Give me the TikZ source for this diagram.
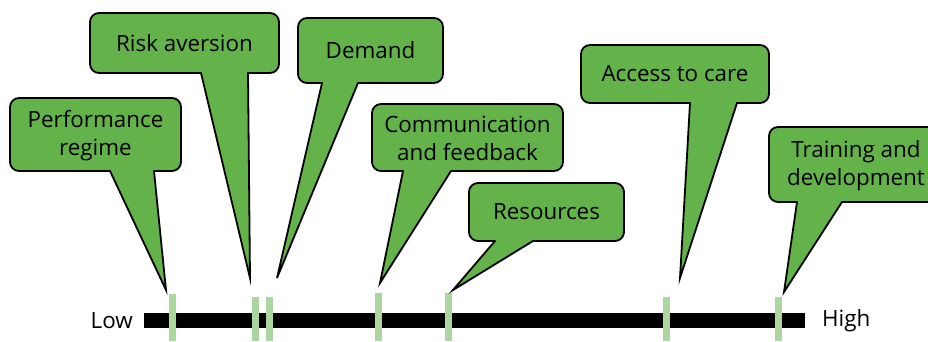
\documentclass[tikz,border=0pt]{standalone}
\usepackage{fontspec}
\setmainfont{Open Sans}
\definecolor{bubble}{RGB}{99,178,74}
\definecolor{marker}{RGB}{172,214,160}
% box left, top, right, bottom, pointer base left, right, tip
\newcommand{\bubble}[7]{%
  \fill[bubble, rounded corners=9pt] (#1,#2) rectangle (#3,#4);
  \fill[bubble] (#5,#4-6) -- (#5,#4) -- (#7) -- (#6,#4) -- (#6,#4-6) -- cycle;
  \draw[edge, rounded corners=9pt] (#5,#4) -- (#1,#4) -- (#1,#2) -- (#3,#2) -- (#3,#4) -- (#6,#4);
  \draw[edge] (#5,#4) -- (#7) -- (#6,#4);}

\begin{document}
\begin{tikzpicture}[x=1pt, y=-1pt, edge/.style = {draw=black, line width=1.8pt, line join=miter, line cap=round},
    txt/.style = {font=\fontsize{22.4}{27.5}\selectfont, align=center, inner sep=0pt},
    tick/.style = {draw=marker, line width=7pt}]
    \useasboundingbox (0,0) rectangle (928,341);
    \clip (0,0) rectangle (928,341);

    % Scale
    \coordinate (lo) at (144,320.5);
    \coordinate (hi) at (805,320.5);
    \draw[line width=15pt] (lo) -- (hi);
    \node[txt, anchor=east] (low) at (133,321) {Low};
    \node[txt, anchor=west] (high) at (822,321) {High};

    % Ticks
    \draw[tick] (172.5,294) -- (172.5,341);
    \draw[tick] (255.5,297) -- (255.5,341);
    \draw[tick] (269.5,297) -- (269.5,341);
    \draw[tick] (378.5,293) -- (378.5,341);
    \draw[tick] (448.5,293) -- (448.5,341);
    \draw[tick] (666.5,297) -- (666.5,341);
    \draw[tick] (778,297) -- (778,341);

    % Callouts
    \coordinate (p1) at (166,290);
    \coordinate (p2) at (250,278);
    \coordinate (p3) at (277,278);
    \coordinate (p4) at (380,283);
    \coordinate (p5) at (453,290);
    \coordinate (p6) at (680,278);
    \coordinate (p7) at (784,292);

    \bubble{10}{98}{181}{171}{110}{154}{p1}
    \bubble{90}{13}{279}{73}{201}{248}{p2}
    \bubble{298}{18}{443}{83}{322}{358}{p3}
    \bubble{372}{104}{563}{171}{403}{451}{p4}
    \bubble{469}{183}{624}{241}{495}{533}{p5}
    \bubble{581}{45}{769}{103}{690}{737}{p6}
    \bubble{769}{127}{943}{202}{797}{842}{p7}

    % Labels
    \node[txt] (perf) at (95.5,135.5) {Performance\\regime};
    \node[txt] (risk) at (184.5,43) {Risk aversion};
    \node[txt] (demand) at (370.5,50.5) {Demand};
    \node[txt] (comm) at (467.5,138.5) {Communication\\and feedback};
    \node[txt] (res) at (546.5,212) {Resources};
    \node[txt] (access) at (675,74) {Access to care};
    \node[txt] (train) at (856,165.5) {Training and\\development};
\end{tikzpicture}
\end{document}
